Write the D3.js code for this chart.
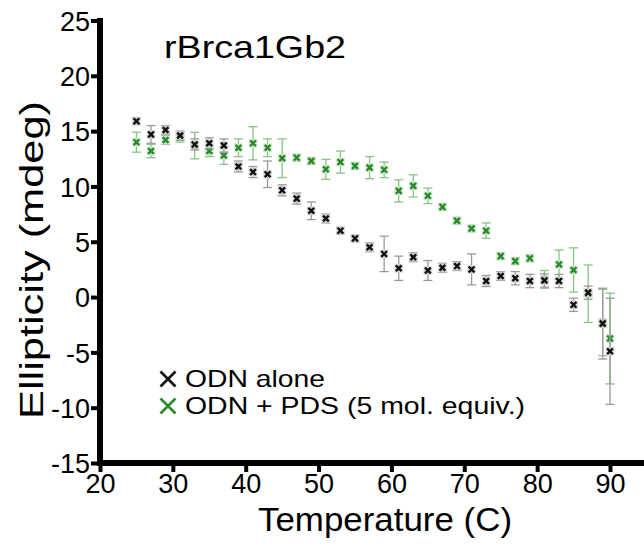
<!DOCTYPE html>
<html><head><meta charset="utf-8">
<script src="https://cdn.jsdelivr.net/npm/d3@7"></script>
<style>body{margin:0;background:#fff}svg{display:block;font-family:"Liberation Sans",Arial,sans-serif}</style>
</head><body><svg id="c" width="644" height="548"></svg>
<script>
const temps = [25,27,29,31,33,35,37,39,41,43,45,47,49,51,53,55,57,59,61,63,65,67,69,71,73,75,77,79,81,83,85,87,89,90];
const aloneVals = [15.9,14.7,15.1,14.6,13.8,13.9,13.7,11.8,11.3,11.1,9.65,8.9,7.8,7.1,6.0,5.3,4.5,3.9,2.6,3.6,2.4,2.65,2.8,2.5,1.45,1.9,1.7,1.45,1.5,1.45,-0.7,0.4,-2.4,-4.9];
const aloneErr  = [0.3,0.8,0.4,0.4,0.5,0.5,0.6,0.5,0.5,1.2,0.5,0.5,0.8,0.4,0.3,0.3,0.4,1.6,1.1,0.4,0.9,0.4,0.4,1.4,0.5,0.4,0.6,0.6,0.6,0.6,0.6,0.6,3.2,4.8];
const pdsVals   = [14.0,13.2,14.2,14.4,13.7,13.2,12.8,13.5,13.9,13.5,12.55,12.6,12.3,11.55,12.2,11.85,11.7,11.5,9.6,10.05,9.15,8.15,6.9,6.2,6.0,3.7,3.25,3.5,1.6,2.95,2.45,0.3,-2.3,-3.75];
const pdsErr    = [0.9,0.6,0.4,0.4,1.2,0.5,0.8,0.8,1.5,0.8,1.75,0.3,0.3,0.9,1.0,0.3,1.0,0.7,1.0,1.0,0.7,0.3,0.3,0.3,0.7,0.3,0.3,0.3,0.8,1.3,2.0,2.6,3.0,4.1];
const xTicks = [20,30,40,50,60,70,80,90];
const yTicks = [-15,-10,-5,0,5,10,15,20,25];
const legendLabels = ["ODN alone","ODN + PDS (5 mol. equiv.)"];
const legendWidths = [140,340];
const titleText = "rBrca1Gb2";

const svg = d3.select("#c");
const x = d3.scaleLinear().domain([20,90]).range([100,610]);
const y = d3.scaleLinear().domain([-15,25]).range([463,20.5]);

const series = [
  {vals: pdsVals, err: pdsErr, color: "#2a8a2a", errColor: "#86c386", box: "#cfe6cf"},
  {vals: aloneVals, err: aloneErr, color: "#111", errColor: "#9a9a9a", box: "#d4d4d4"}
];
const capW = 4.5;
series.forEach(s => {
  const g = svg.append("g");
  temps.forEach((t,i) => {
    const cx = x(t), v = s.vals[i], e = s.err[i];
    g.append("line").attr("x1",cx).attr("x2",cx).attr("y1",y(v+e)).attr("y2",y(v-e)).attr("stroke",s.errColor).attr("stroke-width",1.3);
    [v+e,v-e].forEach(w => g.append("line").attr("x1",cx-capW).attr("x2",cx+capW).attr("y1",y(w)).attr("y2",y(w)).attr("stroke",s.errColor).attr("stroke-width",1.3));
  });
  g.selectAll("rect.bx").data(temps).join("rect")
    .attr("x",t=>x(t)-4.5).attr("y",(t,i)=>y(s.vals[i])-4.5).attr("width",9).attr("height",9)
    .attr("fill",s.box).attr("opacity",0.7);
  g.selectAll("path.pt").data(temps).join("path")
    .attr("transform",(t,i)=>`translate(${x(t)},${y(s.vals[i])})`)
    .attr("d", d3.symbol().type(d3.symbolX).size(24))
    .attr("stroke", s.color).attr("stroke-width",2.4).attr("fill","none");
});

const fmt = d => String(d);
const xa = svg.append("g").attr("transform","translate(0,463)")
  .call(d3.axisBottom(x).tickValues(xTicks).tickFormat(fmt).tickSize(9).tickPadding(2));
xa.select(".domain").remove();
xa.append("line").attr("x1",97).attr("x2",644).attr("y1",0).attr("y2",0).attr("stroke","#000").attr("stroke-width",6);
xa.selectAll(".tick line").attr("stroke","#000").attr("stroke-width",4);
xa.selectAll(".tick text").attr("fill","#000").attr("font-size",27).attr("font-family","Liberation Sans, Arial, sans-serif");

const ya = svg.append("g").attr("transform","translate(100,0)")
  .call(d3.axisLeft(y).tickValues(yTicks).tickFormat(fmt).tickSize(9).tickPadding(1));
ya.select(".domain").remove();
ya.append("line").attr("x1",0).attr("x2",0).attr("y1",18).attr("y2",466).attr("stroke","#000").attr("stroke-width",6);
ya.selectAll(".tick line").attr("stroke","#000").attr("stroke-width",4);
ya.selectAll(".tick text").attr("fill","#000").attr("font-size",27).attr("font-family","Liberation Sans, Arial, sans-serif").attr("dy","0.36em");

svg.append("text").attr("x",164).attr("y",58).attr("font-size",32)
  .attr("textLength",182).attr("lengthAdjust","spacingAndGlyphs").text(titleText);
svg.append("text").attr("x",385).attr("y",531).attr("text-anchor","middle").attr("font-size",34)
  .attr("textLength",254).attr("lengthAdjust","spacingAndGlyphs").text("Temperature (C)");
svg.append("text").attr("transform","translate(43,260) rotate(-90)").attr("text-anchor","middle").attr("font-size",34)
  .attr("textLength",318).attr("lengthAdjust","spacingAndGlyphs").text("Ellipticity (mdeg)");

const legColors = ["#111","#2a8a2a"];
legendLabels.forEach((lab,i) => {
  const ly = 379 + i*27;
  svg.append("path").attr("transform",`translate(168,${ly})`).attr("d",d3.symbol().type(d3.symbolX).size(150))
    .attr("stroke",legColors[i]).attr("stroke-width",2.6).attr("fill","none");
  svg.append("text").attr("x",185).attr("y",ly+8).attr("font-size",24)
    .attr("textLength",legendWidths[i]).attr("lengthAdjust","spacingAndGlyphs").text(lab);
});
</script></body></html>
